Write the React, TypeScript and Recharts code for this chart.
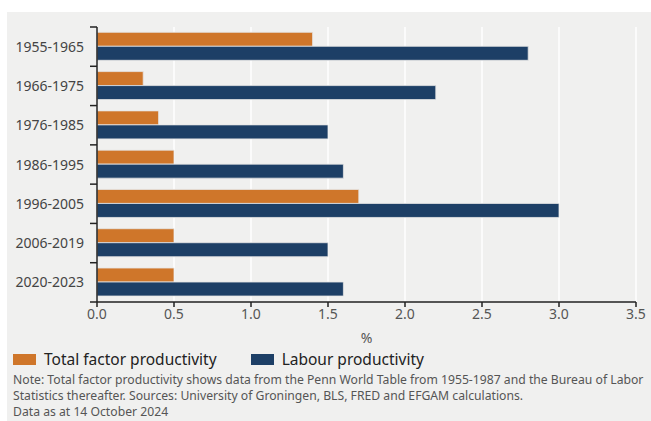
import React from 'react';
import { BarChart, Bar, XAxis, YAxis, CartesianGrid, Label } from 'recharts';

const categories = ['1955-1965', '1966-1975', '1976-1985', '1986-1995', '1996-2005', '2006-2019', '2020-2023'];
const tfp = [1.4, 0.3, 0.4, 0.5, 1.7, 0.5, 0.5];
const labour = [2.8, 2.2, 1.5, 1.6, 3.0, 1.5, 1.6];
const xTicks = [0, 0.5, 1.0, 1.5, 2.0, 2.5, 3.0, 3.5];
const seriesNames = ['Total factor productivity', 'Labour productivity'];
const noteLines = [
  'Note: Total factor productivity shows data from the Penn World Table from 1955-1987 and the Bureau of Labor',
  'Statistics thereafter. Sources: University of Groningen, BLS, FRED and EFGAM calculations.',
  'Data as at 14 October 2024',
];

const data = categories.map((c, i) => ({ cat: c, tfp: tfp[i], labour: labour[i] }));

const ORANGE = '#cf762a';
const NAVY = '#1d3f66';
const FONT = '"Noto Sans", "Open Sans", sans-serif';
const PLOT_TOP = 27;
const PLOT_H = 275;
const BAND = PLOT_H / categories.length;

const YTick = (props: any) => {
  const { x, y, payload, index } = props;
  const ax = x + 8;
  return (
    <g>
      <line x1={ax - 7} x2={ax} y1={y - BAND / 2} y2={y - BAND / 2} stroke="#222" strokeWidth={1.5} />
      {index === categories.length - 1 && (
        <line x1={ax - 7} x2={ax} y1={y + BAND / 2} y2={y + BAND / 2} stroke="#222" strokeWidth={1.5} />
      )}
      <text x={x - 5} y={y} dy={5} textAnchor="end" fill="#444" fontSize={14} fontFamily={FONT}>
        {payload.value}
      </text>
    </g>
  );
};

export default function App() {
  return (
    <div style={{ position: 'fixed', left: 0, top: 0, width: 651, height: 421, background: '#fff', overflow: 'hidden' }}>
      <div style={{ position: 'absolute', left: 7, top: 12, width: 644, height: 409, background: '#f0f0ef' }} />
      <div style={{ position: 'absolute', left: 0, top: 0 }}>
        <BarChart
          width={651}
          height={380}
          data={data}
          layout="vertical"
          margin={{ top: PLOT_TOP, right: 15, left: 7, bottom: 34 }}
          barCategoryGap="13.5%"
          barGap={0}
        >
          <CartesianGrid horizontal={false} stroke="#ffffff" strokeWidth={1.5} />
          <XAxis
            type="number"
            domain={[0, 3.5]}
            ticks={xTicks}
            tickFormatter={(v: number) => v.toFixed(1)}
            axisLine={{ stroke: '#222', strokeWidth: 1.5 }}
            tickLine={{ stroke: '#222', strokeWidth: 1.5 }}
            tickSize={5}
            tick={{ fill: '#555', fontSize: 14, fontFamily: FONT }}
            height={44}
            interval={0}
          >
            <Label value="%" position="insideBottom" offset={3} fill="#555" fontSize={14} fontFamily={FONT} />
          </XAxis>
          <YAxis
            type="category"
            dataKey="cat"
            width={90}
            axisLine={{ stroke: '#222', strokeWidth: 1.5 }}
            tickLine={false}
            tick={<YTick />}
            interval={0}
          />
          <Bar dataKey="tfp" name={seriesNames[0]} fill={ORANGE} stroke="#e6e6e6" strokeWidth={0.8} isAnimationActive={false} />
          <Bar dataKey="labour" name={seriesNames[1]} fill={NAVY} stroke="#e6e6e6" strokeWidth={0.8} isAnimationActive={false} />
        </BarChart>
      </div>
      <div style={{ position: 'absolute', left: 13, top: 348, display: 'flex', alignItems: 'center', fontFamily: FONT, fontSize: 15.5, color: '#222', lineHeight: '22px' }}>
        <span style={{ display: 'inline-block', width: 23, height: 11, background: ORANGE, marginRight: 8 }} />
        <span style={{ marginRight: 34 }}>{seriesNames[0]}</span>
        <span style={{ display: 'inline-block', width: 23, height: 11, background: NAVY, marginRight: 8 }} />
        <span>{seriesNames[1]}</span>
      </div>
      <div style={{ position: 'absolute', left: 13, top: 372, fontFamily: FONT, fontSize: 12.2, color: '#555', lineHeight: '16px', whiteSpace: 'nowrap' }}>
        {noteLines.map((l, i) => (
          <div key={i}>{l}</div>
        ))}
      </div>
    </div>
  );
}
